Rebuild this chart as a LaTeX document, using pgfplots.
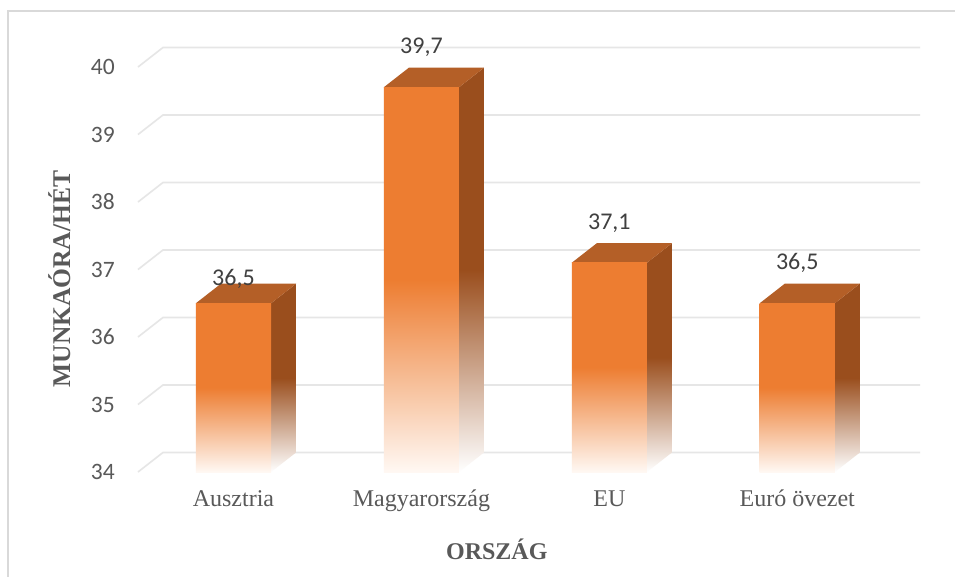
\documentclass[border=0pt]{standalone}
\usepackage{pgfplots}
\pgfplotsset{compat=1.18}
\usepackage{fontspec}
\setmainfont{Liberation Serif}
\newfontfamily\carlito{Carlito}
\definecolor{barfront}{HTML}{ED7D31}
\definecolor{bartop}{HTML}{B45F27}
\definecolor{barside}{HTML}{9A4E1D}
\definecolor{gridc}{HTML}{E6E6E6}
\definecolor{txt}{HTML}{595959}
\definecolor{txtd}{HTML}{404040}
\definecolor{framec}{HTML}{D9D9D9}
\definecolor{fadeend}{HTML}{FFF8F3}

\pgfplotsset{
  front/.style={draw=none, top color=barfront, bottom color=fadeend, middle color=barfront},
  side/.style={draw=none, top color=barside, bottom color=white, middle color=barside},
  topf/.style={draw=none, fill=bartop},
}

\begin{document}
\begin{tikzpicture}[x=1pt,y=1pt]
\useasboundingbox (0,0) rectangle (955,576);
\fill[white] (0,0) rectangle (955,576);
\draw[framec, line width=1.5pt] (8,-2) -- (8,565) -- (960,565);
\begin{axis}[
  at={(138pt,104pt)}, anchor=south west,
  scale only axis, width=757pt, height=405pt,
  xmin=-0.508, xmax=3.52, ymin=34, ymax=40,
  clip=false,
  axis line style={draw=none},
  major tick length=0pt,
  tick style={draw=none},
  xtick={0,1,2,3},
  xticklabels={Ausztria,Magyarország,EU,Euró övezet},
  ytick={34,35,36,37,38,39,40},
  /pgf/number format/assume math mode=true,
  xticklabel style={font=\fontsize{24}{28}\selectfont, text=txt, anchor=base, yshift=-34pt, inner sep=0pt},
  yticklabel style={font=\carlito\fontsize{23.5}{27}\selectfont, text=txt, anchor=east, xshift=-23pt, inner sep=0pt},
  xlabel={ORSZÁG}, ylabel={MUNKAÓRA/HÉT},
  xlabel style={font=\bfseries\fontsize{24}{28}\selectfont, text=txt, at={(axis description cs:0.474,-0.217)}, anchor=base},
  ylabel style={font=\bfseries\fontsize{25.5}{29}\selectfont, text=txt, at={(axis description cs:-0.0898,0.4765)}, anchor=base},
]
% back-wall gridlines
\draw[gridc, line width=1.6pt] (axis cs:-0.508,34) -- (axis cs:-0.375,34.289) -- (axis cs:3.653,34.289);
\draw[gridc, line width=1.6pt] (axis cs:-0.508,35) -- (axis cs:-0.375,35.289) -- (axis cs:3.653,35.289);
\draw[gridc, line width=1.6pt] (axis cs:-0.508,36) -- (axis cs:-0.375,36.289) -- (axis cs:3.653,36.289);
\draw[gridc, line width=1.6pt] (axis cs:-0.508,37) -- (axis cs:-0.375,37.289) -- (axis cs:3.653,37.289);
\draw[gridc, line width=1.6pt] (axis cs:-0.508,38) -- (axis cs:-0.375,38.289) -- (axis cs:3.653,38.289);
\draw[gridc, line width=1.6pt] (axis cs:-0.508,39) -- (axis cs:-0.375,39.289) -- (axis cs:3.653,39.289);
\draw[gridc, line width=1.6pt] (axis cs:-0.508,40) -- (axis cs:-0.375,40.289) -- (axis cs:3.653,40.289);

% Ausztria 36.5
\addplot[side] coordinates {(0.2,34) (0.2,36.5) (0.333,36.789) (0.333,34.289)};
\addplot[topf] coordinates {(-0.2,36.5) (0.2,36.5) (0.333,36.789) (-0.067,36.789)};
\addplot[front] coordinates {(-0.2,34) (-0.2,36.5) (0.2,36.5) (0.2,34)};
% Magyarorszag 39.7
\addplot[side] coordinates {(1.2,34) (1.2,39.7) (1.333,39.989) (1.333,34.289)};
\addplot[topf] coordinates {(0.8,39.7) (1.2,39.7) (1.333,39.989) (0.933,39.989)};
\addplot[front] coordinates {(0.8,34) (0.8,39.7) (1.2,39.7) (1.2,34)};
% EU 37.1
\addplot[side] coordinates {(2.2,34) (2.2,37.1) (2.333,37.389) (2.333,34.289)};
\addplot[topf] coordinates {(1.8,37.1) (2.2,37.1) (2.333,37.389) (1.933,37.389)};
\addplot[front] coordinates {(1.8,34) (1.8,37.1) (2.2,37.1) (2.2,34)};
% Euro ovezet 36.5
\addplot[side] coordinates {(3.2,34) (3.2,36.5) (3.333,36.789) (3.333,34.289)};
\addplot[topf] coordinates {(2.8,36.5) (3.2,36.5) (3.333,36.789) (2.933,36.789)};
\addplot[front] coordinates {(2.8,34) (2.8,36.5) (3.2,36.5) (3.2,34)};

% data labels
\addplot[draw=none, point meta=y,
  nodes near coords={\pgfmathprintnumber[fixed,precision=1,fixed zerofill,use comma]{\pgfplotspointmeta}},
  every node near coord/.append style={anchor=base, yshift=33.5pt, inner sep=0pt, font=\carlito\fontsize{24}{28}\selectfont, text=txtd}]
  coordinates {(1,39.7) (2,37.1) (3,36.5)};
\addplot[draw=none, point meta=y,
  nodes near coords={\pgfmathprintnumber[fixed,precision=1,fixed zerofill,use comma]{\pgfplotspointmeta}},
  every node near coord/.append style={anchor=base, yshift=18pt, inner sep=0pt, font=\carlito\fontsize{24}{28}\selectfont, text=txtd}]
  coordinates {(0,36.5)};
\end{axis}
\end{tikzpicture}
\end{document}
